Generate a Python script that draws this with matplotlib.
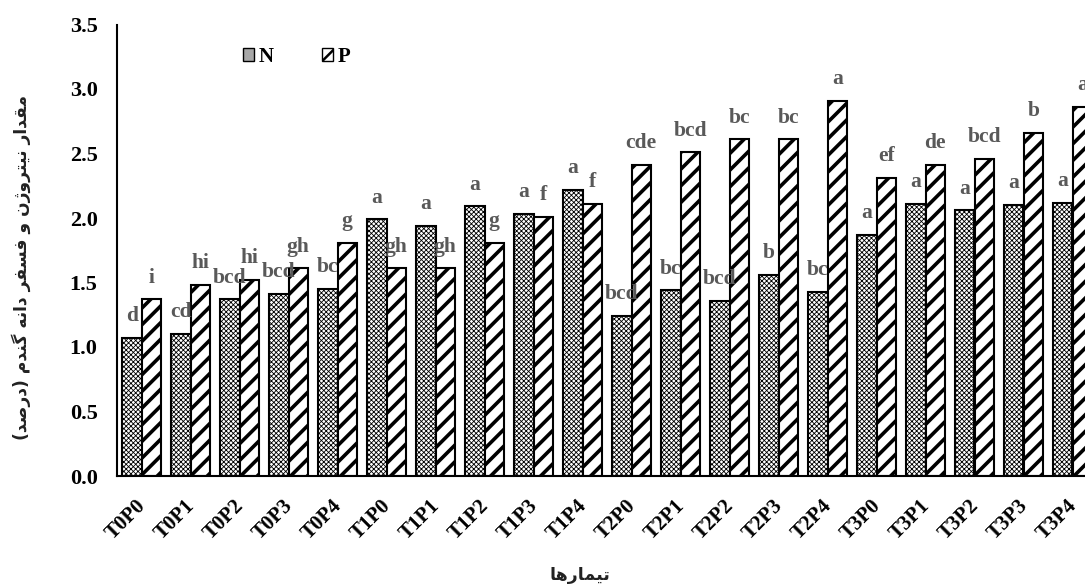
import matplotlib
matplotlib.use("Agg")
import matplotlib.pyplot as plt
import matplotlib.transforms as mtransforms
from matplotlib.patches import Patch
import numpy as np

categories = ["T0P0", "T0P1", "T0P2", "T0P3", "T0P4",
              "T1P0", "T1P1", "T1P2", "T1P3", "T1P4",
              "T2P0", "T2P1", "T2P2", "T2P3", "T2P4",
              "T3P0", "T3P1", "T3P2", "T3P3", "T3P4"]
n_values = [1.07, 1.10, 1.37, 1.41, 1.45, 1.99, 1.94, 2.09, 2.03, 2.22,
            1.24, 1.44, 1.36, 1.56, 1.43, 1.87, 2.11, 2.06, 2.10, 2.12]
p_values = [1.37, 1.48, 1.52, 1.61, 1.81, 1.61, 1.61, 1.81, 2.01, 2.11,
            2.41, 2.51, 2.61, 2.61, 2.91, 2.31, 2.41, 2.46, 2.66, 2.86]
n_letters = ["d", "cd", "bcd", "bcd", "bc", "a", "a", "a", "a", "a",
             "bcd", "bc", "bcd", "b", "bc", "a", "a", "a", "a", "a"]
p_letters = ["i", "hi", "hi", "gh", "g", "gh", "gh", "g", "f", "f",
             "cde", "bcd", "bc", "bc", "a", "ef", "de", "bcd", "b", "a"]
series_names = ["N", "P"]
y_ticks = [0.0, 0.5, 1.0, 1.5, 2.0, 2.5, 3.0, 3.5]
y_label_fa = "مقدار نیتروژن و فسفر دانه گندم (درصد)"
x_label_fa = "تیمارها"

# --- minimal Persian shaping (presentation forms, visual order) ---
FORMS = {
    'ا': ('\uFE8D', '\uFE8E', None, None),
    'د': ('\uFEA9', '\uFEAA', None, None),
    'ر': ('\uFEAD', '\uFEAE', None, None),
    'ژ': ('\uFB8A', '\uFB8B', None, None),
    'و': ('\uFEED', '\uFEEE', None, None),
    'ت': ('\uFE95', '\uFE96', '\uFE97', '\uFE98'),
    'س': ('\uFEB1', '\uFEB2', '\uFEB3', '\uFEB4'),
    'ص': ('\uFEB9', '\uFEBA', '\uFEBB', '\uFEBC'),
    'ف': ('\uFED1', '\uFED2', '\uFED3', '\uFED4'),
    'ق': ('\uFED5', '\uFED6', '\uFED7', '\uFED8'),
    'م': ('\uFEE1', '\uFEE2', '\uFEE3', '\uFEE4'),
    'ن': ('\uFEE5', '\uFEE6', '\uFEE7', '\uFEE8'),
    'ه': ('\uFEE9', '\uFEEA', '\uFEEB', '\uFEEC'),
    'ی': ('\uFBFC', '\uFBFD', '\uFBFE', '\uFBFF'),
    'گ': ('\uFB92', '\uFB93', '\uFB94', '\uFB95'),
}


def shape_fa(text):
    out = []
    n = len(text)
    for i, ch in enumerate(text):
        if ch not in FORMS:
            out.append(ch)
            continue
        iso, fin, ini, med = FORMS[ch]
        prev = text[i - 1] if i > 0 else ''
        nxt = text[i + 1] if i < n - 1 else ''
        jp = prev in FORMS and FORMS[prev][2] is not None
        jn = ini is not None and nxt in FORMS
        if jp and jn:
            out.append(med)
        elif jp:
            out.append(fin)
        elif jn:
            out.append(ini)
        else:
            out.append(iso)
    vis = ''.join(reversed(out))
    vis = vis.translate(str.maketrans({'(': ')', ')': '('}))
    return vis


plt.rcParams['font.family'] = ['Liberation Serif', 'DejaVu Serif']

fig = plt.figure(figsize=(10.85, 5.88), dpi=100)
ax = fig.add_axes([117 / 1085, 112 / 588, 980 / 1085, 451.5 / 588])

x = np.arange(len(categories))
w = 0.398

plt.rcParams['hatch.linewidth'] = 0.6
bn = ax.bar(x - w / 2, n_values, w, facecolor='white', edgecolor='black',
            hatch='xxxxxxx', linewidth=1.5, label=series_names[0])
for p in bn:
    if hasattr(p, 'set_hatch_linewidth'):
        p.set_hatch_linewidth(0.6)
plt.rcParams['hatch.linewidth'] = 2.6
bp = ax.bar(x + w / 2, p_values, w, facecolor='white', edgecolor='black',
            hatch='//', linewidth=1.5, label=series_names[1])
for p in bp:
    if hasattr(p, 'set_hatch_linewidth'):
        p.set_hatch_linewidth(2.6)

lab_kw = dict(ha='center', va='baseline', fontsize=15.5, fontweight='bold',
              color='#595959', textcoords='offset points', xytext=(0, 12))
for xi, v, t in zip(x, n_values, n_letters):
    ax.annotate(t, (xi - w / 2, v), **lab_kw)
for xi, v, t in zip(x, p_values, p_letters):
    ax.annotate(t, (xi + w / 2, v), **lab_kw)

ax.set_xlim(-0.5, len(categories) - 0.5)
ax.set_ylim(0, 3.5)
ax.set_yticks(y_ticks)
ax.set_yticklabels([f"{t:.1f}" for t in y_ticks], fontsize=16, fontweight='bold')
ax.set_xticks(x)
ax.set_xticklabels(categories, rotation=45, ha='right', rotation_mode='anchor',
                   fontsize=15, fontweight='bold')
ax.tick_params(axis='both', length=0)
ax.tick_params(axis='y', pad=14)
ax.tick_params(axis='x', pad=14)
for s in ['top', 'right']:
    ax.spines[s].set_visible(False)
for s in ['left', 'bottom']:
    ax.spines[s].set_linewidth(1.5)

fig.text(21 / 1085, 1 - 267 / 588, shape_fa(y_label_fa), rotation=90,
         ha='center', va='center', fontsize=12.3, family=['DejaVu Sans'],
         fontweight='bold', color='#222222')
fig.text(580 / 1085, 1 - 575 / 588, shape_fa(x_label_fa),
         ha='center', va='center', fontsize=12.5, family=['DejaVu Sans'],
         fontweight='bold', color='#222222')

plt.rcParams['hatch.linewidth'] = 1.8
h_n = Patch(facecolor='#a8a8a8', edgecolor='black', linewidth=1.0,
            label=series_names[0])
h_p = Patch(facecolor='white', edgecolor='black', linewidth=1.0, hatch='//',
            label=series_names[1])
leg = ax.legend(handles=[h_n, h_p], loc='center left',
                bbox_to_anchor=(243 / 1085, 1 - 57 / 588),
                bbox_transform=fig.transFigure, ncol=2, frameon=False,
                borderaxespad=0, borderpad=0,
                handlelength=0.55, handleheight=0.55, handletextpad=0.2,
                columnspacing=2.3, prop=dict(size=15, weight='bold'))

shift = mtransforms.ScaledTranslation(-6 / 100, 0, fig.dpi_scale_trans)
for tick in ax.xaxis.get_major_ticks():
    tick.label1.set_transform(tick.label1.get_transform() + shift)

fig.savefig('out.png', dpi=100)
